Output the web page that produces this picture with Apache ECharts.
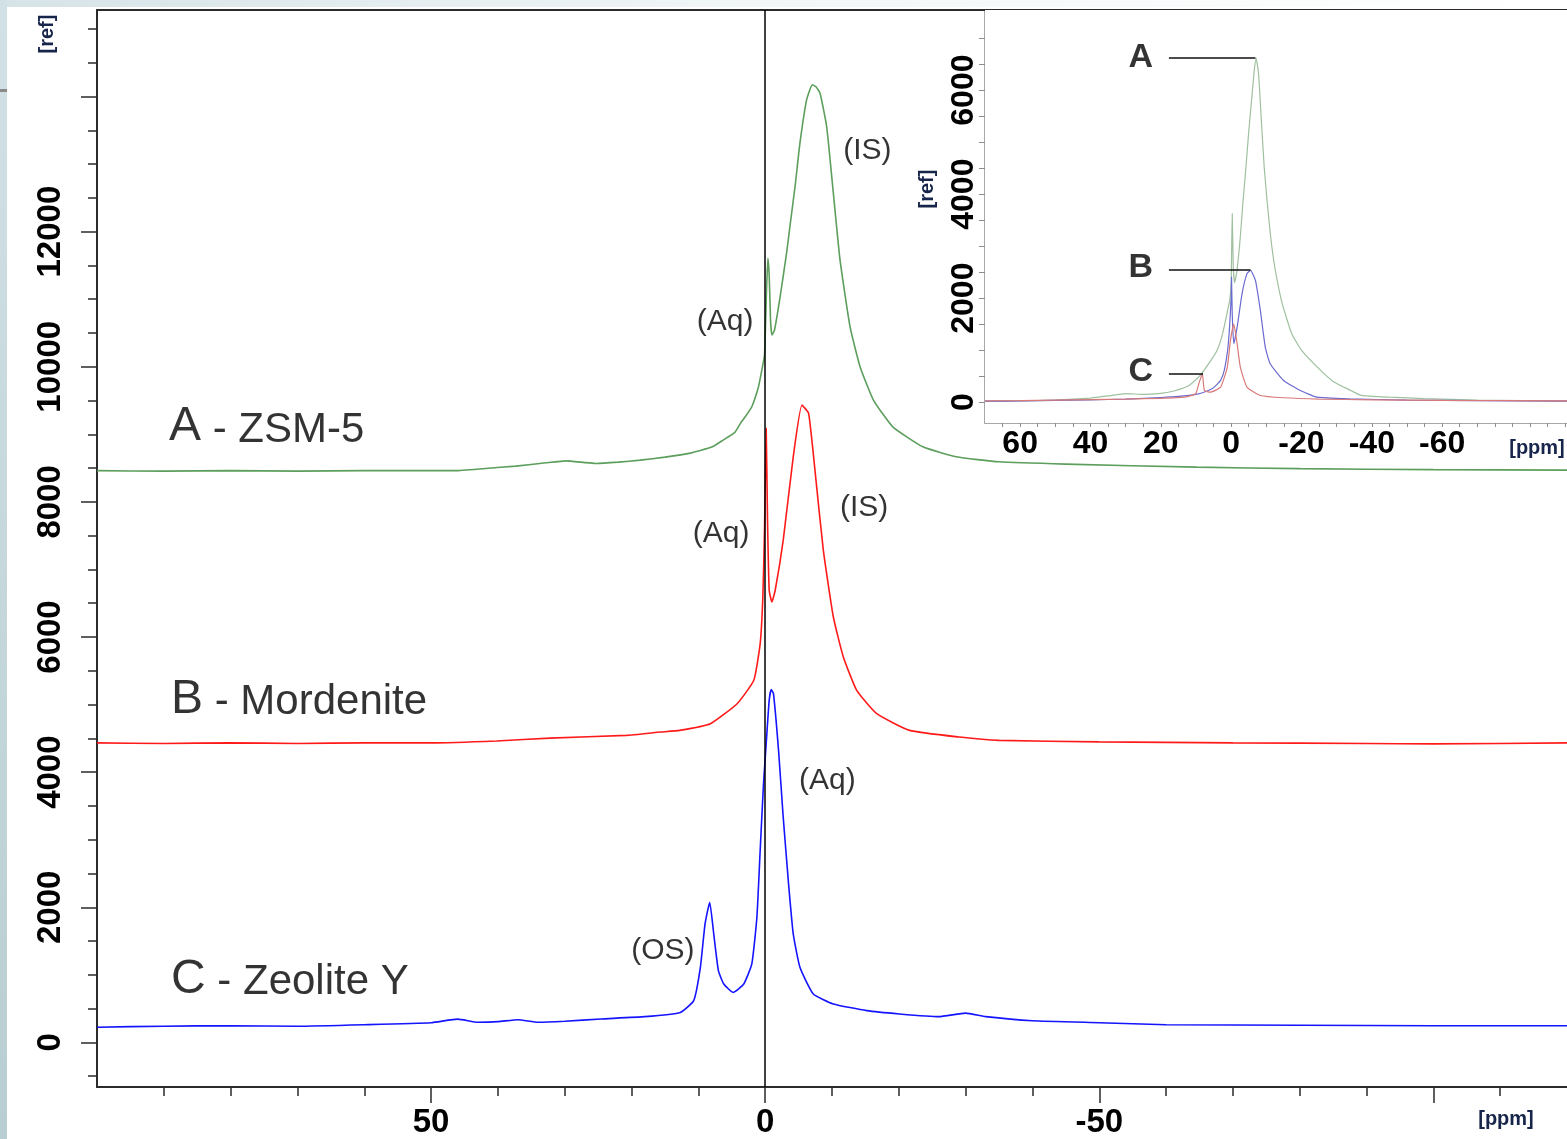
<!DOCTYPE html>
<html>
<head>
<meta charset="utf-8">
<script src="https://cdn.jsdelivr.net/npm/echarts@6/dist/echarts.min.js"></script>
<style>
  html, body { margin: 0; padding: 0; background: #fff; }
  #chart { width: 1567px; height: 1139px; }
</style>
</head>
<body>
<div id="chart"></div>
<script>
// ---- main spectra: chemical shift (ppm) and intensity ----
const ppmA = [100, 90, 80, 70, 60, 50, 46.4, 41.9, 37.3, 32.8, 29.8, 27, 25.4, 22, 18.7, 15, 11.2, 8, 6.3, 4.5, 3.7, 2.8, 2.0, 1.0, 0.5, 0.1, -0.2, -0.4, -0.6, -0.8, -1.0, -1.4, -2.24, -3.2, -3.7, -4.5, -5.2, -6.2, -7.06, -7.6, -8.2, -9.2, -10.2, -11.2, -12.7, -14.2, -16.2, -19.1, -23.6, -28.6, -35, -45, -64.6, -80, -100, -120];
const valA = [8462, 8455, 8462, 8455, 8462, 8462, 8462, 8495, 8529, 8578, 8607, 8581, 8569, 8588, 8618, 8662, 8722, 8811, 8914, 9033, 9162, 9285, 9408, 9704, 9951, 10173, 11136, 11606, 11358, 10692, 10470, 10544, 11037, 11680, 12074, 12692, 13310, 13951, 14173, 14144, 14051, 13556, 12569, 11581, 10593, 10000, 9507, 9111, 8815, 8667, 8593, 8559, 8514, 8492, 8477, 8470];

const ppmB = [100, 90, 80, 70, 60, 50, 40.2, 32.2, 20.8, 15.7, 12.8, 8.2, 4.2, 1.7, 0.75, 0.35, 0.1, -0.15, -0.35, -0.6, -1.0, -1.5, -2.7, -4.2, -5.5, -6.5, -7.5, -8.7, -10.2, -11.7, -13.7, -16.7, -21.6, -29.1, -35, -50, -70, -90, -100, -120];
const valB = [4433, 4425, 4433, 4425, 4433, 4433, 4462, 4504, 4544, 4593, 4618, 4717, 5013, 5359, 5902, 6593, 7581, 9088, 7729, 6692, 6519, 6692, 7433, 8667, 9433, 9310, 8421, 7285, 6296, 5704, 5210, 4865, 4618, 4519, 4470, 4448, 4433, 4425, 4418, 4433];

const ppmC = [100, 90, 80, 70, 60, 50, 46, 43, 40, 37, 34, 30, 24.6, 18, 12.7, 10.7, 9.7, 9.0, 8.3, 7.7, 7.0, 6.2, 4.8, 3.2, 2.0, 1.24, 0.75, 0.25, -0.25, -0.6, -0.9, -1.24, -2.0, -2.7, -3.5, -4.2, -5.2, -7.2, -10.2, -15.2, -20.1, -26, -30, -33, -40, -50, -60, -80, -100, -120];
const valC = [225, 240, 247, 240, 262, 292, 344, 299, 307, 336, 299, 314, 347, 381, 444, 618, 1111, 1754, 2074, 1606, 1062, 865, 741, 865, 1161, 1852, 2840, 3828, 4569, 5062, 5221, 5162, 4322, 3333, 2347, 1606, 1111, 717, 569, 470, 421, 381, 433, 381, 321, 292, 262, 255, 247, 247];

// ---- inset spectra (same samples, common baseline) ----
const insPpmA = [70, 60, 50, 40, 35, 30, 25, 20, 16, 12, 9, 6, 4, 2.5, 1.2, 0.4, 0, -0.3, -0.6, -1.0, -1.6, -2.5, -3.3, -4.2, -5.0, -5.8, -6.6, -7.1, -7.8, -8.6, -9.4, -10.2, -11.2, -12.4, -14.5, -17.2, -20, -24.5, -29, -34, -37, -45, -55, -70, -96];
const insValA = [20, 25, 40, 80, 120, 165, 150, 170, 220, 320, 500, 780, 1000, 1300, 1700, 1958, 2300, 3627, 2600, 2300, 2500, 3100, 3800, 4515, 5200, 5806, 6400, 6616, 6300, 5400, 4515, 3883, 3200, 2599, 1900, 1322, 1000, 674, 400, 225, 130, 96, 70, 40, 25];

const insPpmB = [70, 60, 50, 40, 30, 20, 15, 10, 7, 5, 3, 2, 1, 0.5, 0, -0.1, -0.3, -0.75, -1.7, -3.1, -4.5, -5.5, -6.9, -8.3, -9.7, -11.1, -14.9, -19.7, -24.4, -33.8, -50, -70, -96];
const insValB = [20, 25, 35, 45, 60, 90, 110, 150, 210, 280, 420, 600, 1000, 1400, 2000, 2406, 1700, 1124, 1444, 2087, 2472, 2535, 2343, 1765, 1059, 739, 418, 225, 96, 65, 40, 30, 20];

const insPpmC = [70, 60, 50, 40, 30, 20, 13.4, 10.1, 9.2, 8.2, 7.6, 5.9, 3.0, 1.1, 0.2, -0.75, -1.7, -2.6, -4.5, -8.3, -14.9, -25, -40, -60, -96];
const insValC = [25, 30, 40, 50, 60, 75, 96, 162, 354, 547, 225, 193, 289, 674, 1188, 1500, 1124, 674, 289, 129, 85, 60, 45, 35, 25];

// ---- labels ----
const sampleLetters = ['A', 'B', 'C'];
const sampleNames = [' - ZSM-5', ' - Mordenite', ' - Zeolite Y'];
const sampleLabelAt = [[89.3, 9107], [89.0, 5077], [89.0, 929]];
const peakNotes = [['(IS)', -15.3, 13196], ['(Aq)', 6.0, 10662], ['(IS)', -14.8, 7907], ['(Aq)', 6.6, 7522], ['(Aq)', -9.3, 3877], ['(OS)', 15.3, 1359]];
const insetLetters = [['A', 25.7, 6626], ['B', 25.7, 2583], ['C', 25.7, 591]];
const insetLeaders = [[17.7, -6.9, 6616], [17.7, -5.5, 2554], [17.7, 8.0, 547]];

// ---- ticks ----
const mainXLabels = [50, 0, -50];
const mainXMajor = [50, 0, -50, -100];
const mainYLabels = [0, 2000, 4000, 6000, 8000, 10000, 12000];
const mainYMajor = [0, 2000, 4000, 6000, 8000, 10000, 12000, 14000];
const insetXLabels = [60, 40, 20, 0, -20, -40, -60];
const insetYLabels = [0, 2000, 4000, 6000];

const mainXMinor = [];
for (let v = -110; v <= 90; v += 10) mainXMinor.push(v);
const mainYMinor = [];
for (let v = -500; v <= 15000; v += 500) mainYMinor.push(v);
const insetXMinor = [];
for (let v = -95; v <= 65; v += 5) insetXMinor.push(v);
const insetYMinor = [];
for (let v = 0; v <= 7000; v += 500) insetYMinor.push(v);

const FONT = '"Liberation Sans", Arial, sans-serif';
const AXIS = '#2b2b2b';
const GREY = '#8c8c8c';

function pairs(xs, ys) {
  return xs.map((x, i) => [x, ys[i]]);
}

const chart = echarts.init(document.getElementById('chart'));

const mainX = { min: -120, max: 100, inverse: true, type: 'value', gridIndex: 0 };
const mainY = { min: -660, max: 15280, type: 'value', gridIndex: 0 };
const insX = { min: -95.5, max: 70, inverse: true, type: 'value', gridIndex: 1 };
const insY = { min: -400, max: 7540, type: 'value', gridIndex: 1 };

function line(name, xs, ys, color, width, xi, yi, extra) {
  return Object.assign({
    name: name,
    type: 'line',
    xAxisIndex: xi,
    yAxisIndex: yi,
    data: pairs(xs, ys),
    showSymbol: false,
    symbol: 'none',
    smooth: 0.15,
    silent: true,
    lineStyle: { color: color, width: width },
    z: 3
  }, extra || {});
}

const noteLabel = { show: true, position: 'inside', fontSize: 30, color: '#000', fontFamily: FONT, textBorderWidth: 0 };

const option = {
  animation: false,
  backgroundColor: '#fff',
  grid: [
    { left: 97, top: 10, right: 0, bottom: 52 },
    { left: 985, top: 10, right: 0, bottom: 716, show: true, backgroundColor: '#fff', borderWidth: 0, z: 1 }
  ],
  xAxis: [
    Object.assign({}, mainX, {
      position: 'bottom',
      axisLine: { onZero: false, lineStyle: { color: AXIS, width: 2 } },
      axisTick: { customValues: mainXMinor, length: 9, lineStyle: { color: AXIS, width: 1.5 } },
      axisLabel: { customValues: mainXLabels, formatter: v => String(v), margin: 19, fontSize: 33, fontWeight: 'bold', color: '#000', fontFamily: FONT },
      splitLine: { show: false }
    }),
    Object.assign({}, mainX, {
      position: 'bottom',
      axisLine: { show: false, onZero: false },
      axisTick: { customValues: mainXMajor, length: 16, lineStyle: { color: AXIS, width: 1.5 } },
      axisLabel: { show: false },
      splitLine: { show: false }
    }),
    Object.assign({}, mainX, {
      position: 'top',
      axisLine: { onZero: false, lineStyle: { color: AXIS, width: 2 } },
      axisTick: { show: false },
      axisLabel: { show: false },
      splitLine: { show: false }
    }),
    Object.assign({}, insX, {
      position: 'bottom',
      axisLine: { onZero: false, lineStyle: { color: GREY, width: 1.5 } },
      axisTick: { customValues: insetXMinor, length: 4, lineStyle: { color: GREY, width: 1 } },
      axisLabel: { customValues: insetXLabels, formatter: v => String(v), margin: 5, fontSize: 32, fontWeight: 'bold', color: '#000', fontFamily: FONT },
      splitLine: { show: false }
    })
  ],
  yAxis: [
    Object.assign({}, mainY, {
      position: 'left',
      axisLine: { onZero: false, lineStyle: { color: AXIS, width: 2 } },
      axisTick: { customValues: mainYMinor, length: 9, lineStyle: { color: AXIS, width: 1.5 } },
      axisLabel: { customValues: mainYLabels, formatter: v => String(v), rotate: 90, margin: 30, fontSize: 33, fontWeight: 'bold', color: '#000', fontFamily: FONT },
      splitLine: { show: false }
    }),
    Object.assign({}, mainY, {
      position: 'left',
      axisLine: { show: false, onZero: false },
      axisTick: { customValues: mainYMajor, length: 16, lineStyle: { color: AXIS, width: 1.5 } },
      axisLabel: { show: false },
      splitLine: { show: false }
    }),
    Object.assign({}, insY, {
      position: 'left',
      axisLine: { onZero: false, lineStyle: { color: GREY, width: 1.5 } },
      axisTick: { customValues: insetYMinor, length: 6, lineStyle: { color: GREY, width: 1 } },
      axisLabel: { customValues: insetYLabels, formatter: v => String(v), rotate: 90, margin: 5, fontSize: 32, fontWeight: 'bold', color: '#000', fontFamily: FONT },
      splitLine: { show: false }
    })
  ],
  series: [
    line('A - ZSM-5', ppmA, valA, '#5c9e5c', 1.6, 0, 0, {
      markLine: {
        silent: true,
        symbol: ['none', 'none'],
        label: { show: false },
        lineStyle: { color: '#000', width: 1.5, type: 'solid' },
        data: [{ xAxis: 0 }]
      }
    }),
    line('B - Mordenite', ppmB, valB, '#ff1a1a', 1.6, 0, 0),
    line('C - Zeolite Y', ppmC, valC, '#1414ff', 1.6, 0, 0),
    {
      type: 'scatter', xAxisIndex: 0, yAxisIndex: 0, silent: true,
      symbolSize: 1, itemStyle: { color: 'rgba(0,0,0,0)' },
      data: peakNotes.map(n => ({ value: [n[1], n[2]], label: Object.assign({}, noteLabel, { formatter: n[0] }) })),
      label: noteLabel,
      z: 6
    },
    {
      type: 'scatter', xAxisIndex: 0, yAxisIndex: 0, silent: true,
      symbolSize: 1, itemStyle: { color: 'rgba(0,0,0,0)' },
      data: sampleLabelAt.map((p, i) => ({
        value: p,
        label: { formatter: '{big|' + sampleLetters[i] + '}{txt|' + sampleNames[i] + '}' }
      })),
      label: {
        show: true, position: 'right', distance: 0, color: '#000', fontFamily: FONT, textBorderWidth: 0,
        rich: {
          big: { fontSize: 48, color: '#000', fontFamily: FONT, verticalAlign: 'bottom' },
          txt: { fontSize: 42, color: '#000', fontFamily: FONT, verticalAlign: 'bottom' }
        }
      },
      z: 6
    },
    line('inset A', insPpmA, insValA, '#9fc09f', 1.2, 3, 2, {
      markLine: {
        silent: true,
        symbol: ['none', 'none'],
        label: { show: false },
        lineStyle: { color: '#111', width: 1.5, type: 'solid' },
        data: insetLeaders.map(l => [{ coord: [l[0], l[2]] }, { coord: [l[1], l[2]] }])
      }
    }),
    line('inset B', insPpmB, insValB, '#6a6ad0', 1.2, 3, 2),
    line('inset C', insPpmC, insValC, '#d97a7a', 1.2, 3, 2),
    {
      type: 'scatter', xAxisIndex: 3, yAxisIndex: 2, silent: true,
      symbolSize: 1, itemStyle: { color: 'rgba(0,0,0,0)' },
      data: insetLetters.map(n => ({ value: [n[1], n[2]], label: { formatter: n[0] } })),
      label: { show: true, position: 'inside', fontSize: 34, fontWeight: 'bold', color: '#000', fontFamily: FONT, textBorderWidth: 0 },
      z: 6
    }
  ],
  graphic: [
    {
      type: 'rect', silent: true, z: 0,
      shape: { x: 0, y: 0, width: 1567, height: 7 },
      style: { fill: new echarts.graphic.LinearGradient(0, 0, 1, 0, [
        { offset: 0, color: '#d6e3e7' }, { offset: 0.5, color: '#f3f7f8' }, { offset: 1, color: '#ffffff' }
      ]) }
    },
    {
      type: 'rect', silent: true, z: 0,
      shape: { x: 0, y: 0, width: 7, height: 1139 },
      style: { fill: new echarts.graphic.LinearGradient(0, 0, 0, 1, [
        { offset: 0, color: '#d2e1e5' }, { offset: 1, color: '#b9ced2' }
      ]) }
    },
    { type: 'rect', silent: true, shape: { x: 0, y: 89, width: 7, height: 3 }, style: { fill: '#8a8a8a' } },
    {
      type: 'text', silent: true, x: 47, y: 34, rotation: Math.PI / 2,
      style: { text: '[ref]', fill: '#17254a', font: 'bold 20px "Liberation Sans", Arial, sans-serif', align: 'center', verticalAlign: 'middle' }
    },
    {
      type: 'text', silent: true, x: 927, y: 189, rotation: Math.PI / 2,
      style: { text: '[ref]', fill: '#17254a', font: 'bold 20px "Liberation Sans", Arial, sans-serif', align: 'center', verticalAlign: 'middle' }
    },
    {
      type: 'text', silent: true, x: 1506, y: 1119,
      style: { text: '[ppm]', fill: '#17254a', font: 'bold 20px "Liberation Sans", Arial, sans-serif', align: 'center', verticalAlign: 'middle' }
    },
    {
      type: 'text', silent: true, x: 1537, y: 448, z: 10,
      style: { text: '[ppm]', fill: '#17254a', font: 'bold 20px "Liberation Sans", Arial, sans-serif', align: 'center', verticalAlign: 'middle' }
    }
  ]
};

chart.setOption(option);
</script>
</body>
</html>
